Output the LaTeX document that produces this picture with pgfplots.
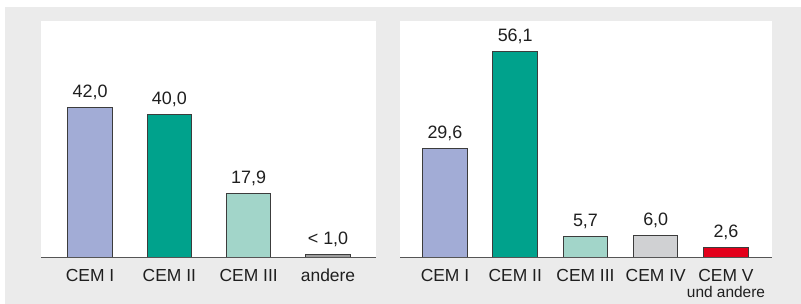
\documentclass[border=0pt]{standalone}
\usepackage{pgfplots}
\pgfplotsset{compat=1.18}
\usepackage{fontspec}
\setmainfont{Liberation Sans}
\definecolor{bg}{HTML}{EBEBEB}
\definecolor{cA}{HTML}{A2ACD6}
\definecolor{cB}{HTML}{00A28C}
\definecolor{cC}{HTML}{A2D5C9}
\definecolor{cD}{HTML}{D0D1D3}
\definecolor{cE}{HTML}{E3001B}
\definecolor{cF}{HTML}{9E9E9E}
\definecolor{edge}{HTML}{3C3C3C}
\definecolor{axg}{HTML}{555555}
\begin{document}
\begin{tikzpicture}
\fill[white] (0bp,0bp) rectangle (801bp,304bp);
\fill[bg] (5bp,0bp) rectangle (801bp,297bp);
\pgfplotsset{
  panel/.style={
    scale only axis, height=236bp, ymin=0,
    enlargelimits=false,
    axis background/.style={fill=white},
    axis x line*=bottom, hide y axis,
    x axis line style={-, draw=axg, line width=1bp},
    major tick length=0pt,
    xticklabel style={font=\fontsize{17.5}{16}\selectfont, anchor=base, yshift=-24.7bp, text=black!88},
    nodes near coords, point meta=explicit symbolic,
    every node near coord/.append style={font=\fontsize{18}{18}\selectfont, anchor=south, inner sep=0pt, yshift=7bp, text=black!88},
  },
  bar/.style={ybar, bar shift=0pt, bar width=44.5bp, draw=edge, line width=1bp},
}
\begin{axis}[panel, at={(41bp,47bp)}, anchor=south west, width=335bp,
  xmin=-0.618, xmax=3.605, ymax=66.35,
  xtick={0,1,2,3}, xticklabels={CEM I, CEM II, CEM III, andere}]
\addplot[bar, fill=cA] coordinates {(0,42.0) [42,0]};
\addplot[bar, fill=cB] coordinates {(1,40.0) [40,0]};
\addplot[bar, fill=cC] coordinates {(2,17.9) [17,9]};
\addplot[bar, fill=cF] coordinates {(3,0.75) [< 1,0]};
\end{axis}
\begin{axis}[panel, at={(400bp,47bp)}, anchor=south west, width=372bp,
  xmin=-0.64, xmax=4.655, ymax=64.4,
  xtick={0,1,2,3,4}, xticklabels={CEM I, CEM II, CEM III, CEM IV, {\begin{tabular}[t]{@{}c@{}}CEM V\\{\fontsize{15.5}{16}\selectfont und andere}\end{tabular}}}]
\addplot[bar, fill=cA] coordinates {(0,29.6) [29,6]};
\addplot[bar, fill=cB] coordinates {(1,56.1) [56,1]};
\addplot[bar, fill=cC] coordinates {(2,5.7) [5,7]};
\addplot[bar, fill=cD] coordinates {(3,6.0) [6,0]};
\addplot[bar, fill=cE] coordinates {(4,2.6) [2,6]};
\end{axis}
\pgfresetboundingbox
\path (0bp,0bp) rectangle (801bp,304bp);
\end{tikzpicture}
\end{document}
